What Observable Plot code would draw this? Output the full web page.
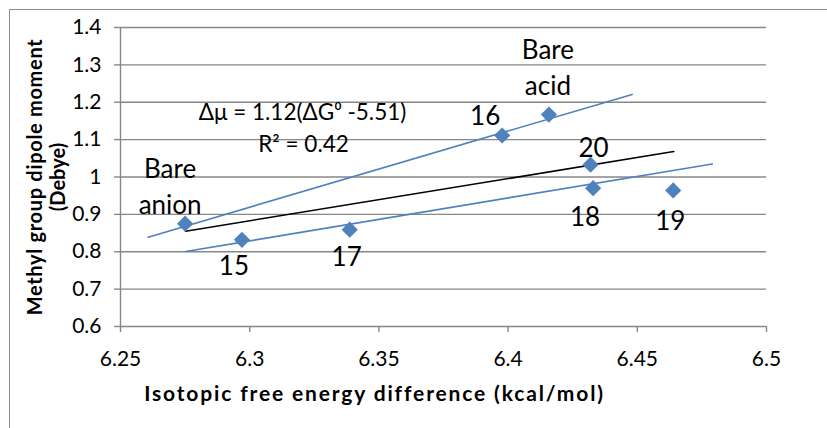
<!DOCTYPE html>
<html>
<head>
<meta charset="utf-8">
<script src="https://cdn.jsdelivr.net/npm/d3@7"></script>
<script src="https://cdn.jsdelivr.net/npm/@observablehq/plot@0.6"></script>
<style>
  html, body { margin: 0; padding: 0; background: #fff; }
  #wrap { position: relative; width: 827px; height: 428px; overflow: hidden; }
  #frame { position: absolute; left: 9px; top: 9px; width: 900px; height: 500px;
           border-top: 1.5px solid #8c8c8c; border-left: 1.5px solid #8c8c8c; pointer-events: none; }
</style>
</head>
<body>
<div id="wrap"><div id="frame"></div></div>
<script>
// ---- data ----
const pointNames = ["Bare anion", "15", "17", "16", "Bare acid", "20", "18", "19"];
const energy     = [6.275, 6.297, 6.3387, 6.3977, 6.4158, 6.4319, 6.4329, 6.4639];
const dipole     = [0.875, 0.832, 0.859, 1.111, 1.167, 1.033, 0.970, 0.964];

const upperLineX = [6.2607, 6.448];
const upperLineY = [0.839, 1.221];
const lowerLineX = [6.2752, 6.479];
const lowerLineY = [0.8005, 1.035];
const fitLineX   = [6.2752, 6.4641];
const fitLineY   = [0.855, 1.068];

const xTicks = [6.25, 6.3, 6.35, 6.4, 6.45, 6.5];
const yTicks = [0.6, 0.7, 0.8, 0.9, 1.0, 1.1, 1.2, 1.3, 1.4];

const equationText = "Δμ = 1.12(ΔG⁰ -5.51)";
const r2Text = "R² = 0.42";
const xTitle = "Isotopic free energy difference (kcal/mol)";
const yTitle = "Methyl group dipole moment\n(Debye)";

// ---- build tables ----
const points = pointNames.map((name, i) => ({name, x: energy[i], y: dipole[i]}));
const toLine = (xs, ys) => xs.map((x, i) => ({x, y: ys[i]}));
const upper = toLine(upperLineX, upperLineY);
const lower = toLine(lowerLineX, lowerLineY);
const fit = toLine(fitLineX, fitLineY);

const FONT = "Lato, 'Open Sans', sans-serif";
const GRAY = "#878787";
const BLUE = "#4F81BD";

// label placement (offsets from their data point, in px)
const labelOffsets = {
  "Bare anion": {dx: -15, dy: -10, text: "Bare\nanion"},
  "15": {dx: -8, dy: 35},
  "17": {dx: -3, dy: 36},
  "16": {dx: -17, dy: -11},
  "Bare acid": {dx: -1, dy: -20, text: "Bare\nacid"},
  "20": {dx: 3, dy: -8},
  "18": {dx: -8, dy: 38},
  "19": {dx: -3, dy: 40}
};
const labelMarks = points.map(p => {
  const o = labelOffsets[p.name];
  return Plot.text([p], {
    x: "x", y: "y", text: () => o.text ?? p.name,
    dx: o.dx, dy: o.dy, lineAnchor: "bottom", lineHeight: 1.38,
    fontSize: 26, fill: "black", fontFamily: FONT
  });
});

const fmt = d => String(+d.toFixed(2));

const chart = Plot.plot({
  width: 827,
  height: 428,
  marginLeft: 120,
  marginRight: 61,
  marginTop: 27,
  marginBottom: 102,
  style: {fontFamily: FONT, fontSize: "21px", color: "black", background: "transparent", overflow: "visible"},
  x: {domain: [6.25, 6.5]},
  y: {domain: [0.6, 1.4]},
  marks: [
    Plot.ruleY(yTicks, {stroke: GRAY, strokeWidth: 1.4}),
    Plot.ruleX([6.25], {stroke: GRAY, strokeWidth: 1.4}),
    Plot.axisY(yTicks, {tickSize: 6, tickPadding: 13, stroke: GRAY, strokeWidth: 1.4,
      tickFormat: fmt, fill: "black", fontSize: 21, label: null}),
    Plot.axisX(xTicks, {tickSize: 6, tickPadding: 19, stroke: GRAY, strokeWidth: 1.4,
      tickFormat: fmt, fill: "black", fontSize: 21, label: null}),
    Plot.line(upper, {x: "x", y: "y", stroke: BLUE, strokeWidth: 1.6}),
    Plot.line(lower, {x: "x", y: "y", stroke: BLUE, strokeWidth: 1.6}),
    Plot.line(fit, {x: "x", y: "y", stroke: "black", strokeWidth: 1.6}),
    Plot.dot(points, {x: "x", y: "y", symbol: "diamond2", r: 7.3, fill: BLUE, stroke: "none"}),
    ...labelMarks,
    Plot.text([equationText], {frameAnchor: "top-left", dx: 182, dy: 77, text: d => d,
      textAnchor: "middle", fontSize: 22.5, fill: "black", fontFamily: FONT}),
    Plot.text([r2Text], {frameAnchor: "top-left", dx: 183, dy: 109, text: d => d,
      textAnchor: "middle", fontSize: 22.5, fill: "black", fontFamily: FONT}),
    Plot.text([xTitle], {frameAnchor: "bottom", dx: -69, dy: 74, text: d => d,
      textAnchor: "middle", fontSize: 21, fontWeight: "bold", fill: "black", fontFamily: FONT}),
    Plot.text([yTitle], {frameAnchor: "left", dx: -74, rotate: -90, text: d => d,
      textAnchor: "middle", lineHeight: 1.12, fontSize: 20, fontWeight: "bold", fill: "black", fontFamily: FONT})
  ]
});
document.getElementById("wrap").prepend(chart);

// stretch single lines of the axis titles to the reference widths (Calibri-like proportions)
function fitLine(str, target) {
  d3.select(chart).selectAll("text, tspan").each(function () {
    if (this.textContent !== str) return;
    if (this.tagName === "text" && this.querySelector("tspan")) return;
    const len = this.getComputedTextLength();
    const n = str.length;
    this.setAttribute("letter-spacing", ((target - len) / (n - 1)).toFixed(2));
  });
}
fitLine(xTitle, 458);
fitLine(yTitle.split("\n")[0], 276);
</script>
</body>
</html>
